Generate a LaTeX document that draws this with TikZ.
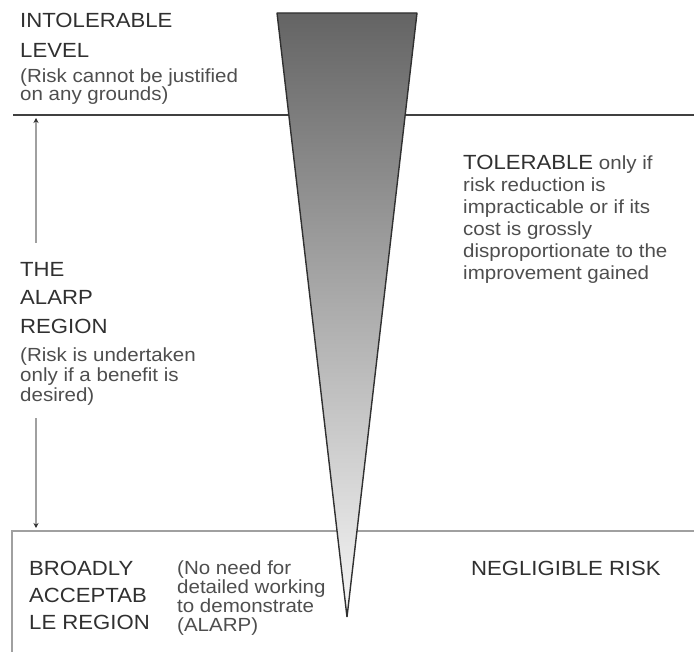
\documentclass[tikz,border=0pt]{standalone}
\usepackage{fontspec}
\setmainfont{Liberation Sans}[FakeStretch=1.08]
\usetikzlibrary{arrows.meta}
\definecolor{ink}{RGB}{48,48,48}
\definecolor{soft}{RGB}{78,78,78}
\definecolor{rule}{RGB}{64,64,64}
\definecolor{faint}{RGB}{160,160,160}
\definecolor{wedgetop}{RGB}{100,100,100}
\definecolor{wedgebot}{RGB}{247,247,247}

\tikzset{
  head/.style={anchor=north west,inner sep=0pt,align=left,text=ink,
    font=\fontsize{20.5}{28}\selectfont},
  note/.style={anchor=north west,inner sep=0pt,align=left,text=soft,
    font=\fontsize{19}{20}\selectfont},
  ruler/.style={draw=faint,line width=2pt,-{Stealth[length=5pt,width=5pt,color=ink]}},
}

\begin{document}
\begin{tikzpicture}[x=1pt,y=-1pt]
  \useasboundingbox (0,0) rectangle (694,652);
  % borders of the regions
  \draw[rule,line width=2.5pt] (13,115) -- (694,115);
  \draw[faint,line width=2pt] (12,652) -- (12,531) -- (694,531);
  % the wedge, dark at the top
  \draw[ink,line width=1.4pt,line join=bevel,top color=wedgetop,bottom color=wedgebot]
    (277,13) -- (417,13) -- (347,617) -- cycle;
  % texts
  \node[head,font=\fontsize{20.5}{30}\selectfont] (intol) at (20,12.6) {INTOLERABLE\\LEVEL};
  \node[note,font=\fontsize{19}{17.5}\selectfont] (intolnote) at (20,68.2)
    {(Risk cannot be justified\\on any grounds)};
  \node[head,font=\fontsize{20.5}{28.5}\selectfont] (alarp) at (20,262) {THE\\ALARP\\REGION};
  \node[note] (alarpnote) at (20,348) {(Risk is undertaken\\only if a benefit is\\desired)};
  \node[note,font=\fontsize{19}{22}\selectfont] (tol) at (463,155.3)
    {{\color{ink}\fontsize{20.5}{22}\selectfont TOLERABLE} only if\\risk reduction is\\impracticable or if its\\cost is grossly\\disproportionate to the\\improvement gained};
  \node[head,font=\fontsize{20.5}{27}\selectfont] (broad) at (29,560.6) {BROADLY\\ACCEPTAB\\LE REGION};
  \node[note,font=\fontsize{19}{19}\selectfont] (noneed) at (177,561)
    {(No need for\\detailed working\\to demonstrate\\(ALARP)};
  \node[head] (negl) at (471,560.6) {NEGLIGIBLE RISK};
  % extent of the ALARP region
  \coordinate (upper) at (36,118);
  \coordinate (lower) at (36,528);
  \draw[ruler,shorten <=19pt] (alarp.north -| upper) -- (upper);
  \draw[ruler,shorten <=12pt] (alarpnote.south -| lower) -- (lower);
\end{tikzpicture}
\end{document}
